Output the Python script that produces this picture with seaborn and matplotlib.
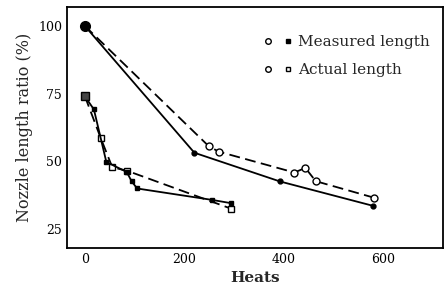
import matplotlib
matplotlib.use('Agg')
import matplotlib.pyplot as plt
import seaborn as sns
import pandas as pd
from matplotlib.lines import Line2D
from matplotlib.legend_handler import HandlerTuple

# long nozzle, measured (filled circles, solid)
heats_m1 = [0, 220, 392, 579]
ratio_m1 = [100, 53.2, 42.6, 33.6]
# long nozzle, actual (open circles, dashed)
heats_a1 = [0, 249, 269, 421, 443, 464, 581]
ratio_a1 = [100, 55.6, 53.6, 45.9, 47.6, 42.7, 36.6]
# short nozzle, measured (filled squares, solid)
heats_m2 = [0, 18, 43, 84, 94, 105, 255, 293]
ratio_m2 = [74, 69.2, 49.8, 46.1, 42.6, 40, 35.8, 34.6]
# short nozzle, actual (open squares, dashed)
heats_a2 = [0, 32, 55, 84, 293]
ratio_a2 = [74, 58.5, 47.8, 46.6, 32.6]

legend_labels = ['Measured length', 'Actual length']


def draw_series(ax, x, y, ls, marker, filled, ms):
    df = pd.DataFrame({'heats': x, 'ratio': y})
    sns.lineplot(data=df, x='heats', y='ratio', ax=ax, sort=False, color='black',
                 linestyle=ls, linewidth=1.3, marker=marker, markersize=ms,
                 markerfacecolor='black' if filled else 'white',
                 markeredgecolor='black', markeredgewidth=1.0, dashes=False)


def main():
    sns.set_style('white')
    plt.rcParams['font.family'] = ['DejaVu Serif']
    fig = plt.figure(figsize=(4.44, 2.96), dpi=100)
    ax = fig.add_axes([0.151, 0.162, 0.847, 0.814])

    draw_series(ax, heats_a1, ratio_a1, (0, (6, 3)), 'o', False, 5)
    draw_series(ax, heats_m1, ratio_m1, '-', 'o', True, 3.5)
    draw_series(ax, heats_a2, ratio_a2, (0, (6, 3)), 's', False, 4)
    draw_series(ax, heats_m2, ratio_m2, '-', 's', True, 3.5)
    # big starting markers
    ax.plot([0], [100], 'o', color='black', markersize=7)
    ax.plot([0], [74], 's', color='black', markersize=6, markerfacecolor='#444444')

    ax.set_xlim(-36, 720)
    ax.set_ylim(18, 107)
    ax.set_xticks([0, 200, 400, 600])
    ax.set_yticks([25, 50, 75, 100])
    ax.tick_params(direction='in', length=4, width=1.2, labelsize=9, colors='black')
    for s in ax.spines.values():
        s.set_color('black')
        s.set_linewidth(1.3)
    ax.set_xlabel('Heats', fontsize=11, fontweight='bold')
    ax.set_ylabel('Nozzle length ratio (%)', fontsize=11.5)

    oc = Line2D([], [], linestyle='none', marker='o', markersize=4,
                markerfacecolor='white', markeredgecolor='black')
    fs = Line2D([], [], linestyle='none', marker='s', markersize=3.5,
                markerfacecolor='black', markeredgecolor='black')
    os_ = Line2D([], [], linestyle='none', marker='s', markersize=3.5,
                 markerfacecolor='white', markeredgecolor='black')
    ax.legend([(oc, fs), (oc, os_)], legend_labels,
              handler_map={tuple: HandlerTuple(ndivide=None, pad=1.0)},
              loc='upper right', frameon=False, fontsize=11,
              handlelength=1.6, handletextpad=0.5, labelspacing=0.9,
              bbox_to_anchor=(1.0, 0.94))

    fig.savefig('out.png', dpi=100)


if __name__ == '__main__':
    main()
